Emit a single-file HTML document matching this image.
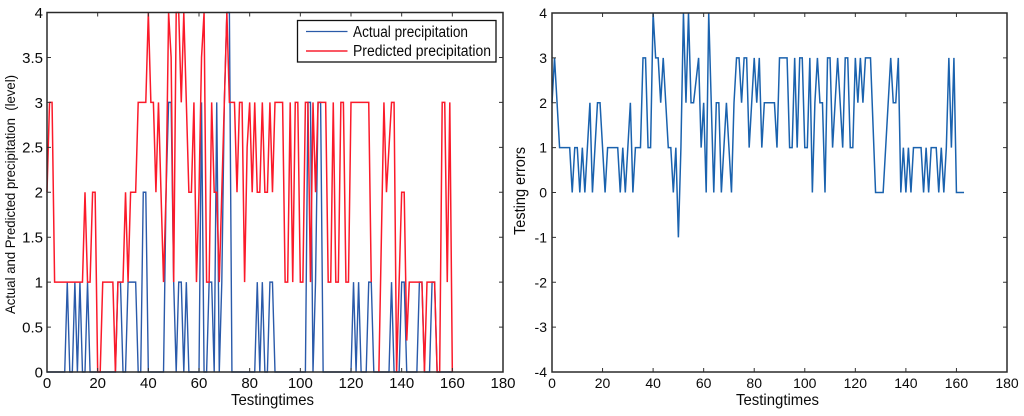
<!DOCTYPE html>
<html lang="en">
<head>
<meta charset="utf-8">
<title>Precipitation testing charts</title>
<style>
html,body{margin:0;padding:0;background:#fff;width:1024px;height:416px;overflow:hidden}
svg{display:block;filter:blur(0.35px)}
text{font-family:"Liberation Sans",sans-serif;fill:#0a0a0a}
</style>
</head>
<body>
<svg id="chart" xmlns="http://www.w3.org/2000/svg" width="1024" height="416" viewBox="0 0 1024 416">
  <rect x="0" y="0" width="1024" height="416" fill="#fff"/>
  <g id="left-plot"></g>
  <g id="right-plot"></g>
  <text transform="translate(15,314) rotate(-90)" font-size="14" textLength="239" lengthAdjust="spacingAndGlyphs" xml:space="preserve">Actual and Predicted precipitation  (level)</text>
  <text x="231" y="405" font-size="16" textLength="83" lengthAdjust="spacingAndGlyphs">Testingtimes</text>
  <text transform="translate(525,235) rotate(-90)" font-size="15.5" textLength="88" lengthAdjust="spacingAndGlyphs">Testing errors</text>
  <text x="736" y="405" font-size="16" textLength="83" lengthAdjust="spacingAndGlyphs">Testingtimes</text>
  <g>
    <rect x="297.5" y="20.5" width="198.5" height="41.5" fill="#fff" stroke="#111" stroke-width="1.3"/>
    <line x1="306" x2="347.5" y1="31.5" y2="31.5" stroke="#2a5aa8" stroke-width="1.3"/>
    <text x="353" y="37" font-size="15.5" textLength="115" lengthAdjust="spacingAndGlyphs">Actual precipitation</text>
    <line x1="306" x2="347.5" y1="51" y2="51" stroke="#f9404e" stroke-width="1.8"/>
    <text x="353" y="56" font-size="15.5" textLength="138" lengthAdjust="spacingAndGlyphs">Predicted precipitation</text>
  </g>
</svg>
<script>
const xTicks = [0, 20, 40, 60, 80, 100, 120, 140, 160, 180];
const leftYTicks = [0, 0.5, 1, 1.5, 2, 2.5, 3, 3.5, 4];
const rightYTicks = [-4, -3, -2, -1, 0, 1, 2, 3, 4];

const actualValues = [
0,0,0,0,0,0,0,0,1,0,
0,1,0,1,0,0,1,0,0,0,
0,0,0,0,0,0,0,0,1,1,
0,0,1,1,1,1,0,0,2,2,
0,0,0,0,0,0,0,2,3,3,
1,0,1,1,0,1,0,0,0,0,
0,3,0,0,1,1,0,3,0,1,
3,4,4,0,0,0,0,0,0,0,
0,0,0,1,0,1,0,0,1,1,
0,0,0,0,0,0,0,0,0,0,
0,0,0,3,3,0,1,3,3,0,
0,0,0,0,0,0,0,0,0,0,
0,1,0,1,0,0,0,1,1,0,
0,0,0,0,0,0,1,0,0,0,
1,1,0,0,0,0,0,1,1,0,
0,0,1,1,0,0,0,0,0,0,
0];

const predictedValues = [
2,3,3,1,1,1,1,1,1,1,
1,1,1,1,1,2,1,1,2,2,
0,0,1,1,1,1,1,0,1,1,
1,2,1,2,2,2,3,3,3,3,
4,3,3,2,3,2,1,2,4,3.5,
1,4,4,3,4,3,2,2,3,1,
2,3.5,4,1,1,3,2,2,1,2,
3,4,3,3,3,2,3,3,1,2.5,
3,2,3,2,2,3,2,2,3,2,
3,3,3,3,1,1,3,1,3,3,
1,1,3,3,1,3,2,3,3,3,
3,1,1,3,1,1,3,3,1,1,
3,3,3,3,3,3,3,3,1,null,
null,0,1.5,3,2,2.5,3,3,0,1,
2,2,0.35,1,1,1,1,1,1,0,
1,1,1,1,0,0,3,3,1,3,
0];

const errorValues = [
2,3,2,1,1,1,1,1,0,1,
1,0,1,0,1,2,0,1,2,2,
1,0,1,1,1,1,1,0,1,0,
1,2,0,1,1,1,3,3,1,1,
4,3,3,2,3,2,1,1,0,1,
-1,1,4,2,4,2,2,2.5,3,1,
2,0,4,2,0,2,2,0,1,2,
1,0,2,3,3,2,3,3,1,2,
3,2,3,1,2,2,2,2,2,1,
3,3,3,3,1,1,3,1,3,3,
1,1,3,0,2,3,2,2,0,3,
3,1,2,3,2,1,3,3,1,1,
3,2,3,2,3,3,3,1.5,0,0,
0,0,1,2,3,2,2,3,0,1,
0,1,0,1,1,1,1,0,1,0,
1,1,1,0,1,0,1,3,1,3,
0,0,0,0];

const SVGNS = 'http://www.w3.org/2000/svg';

function scale(d0, d1, r0, r1) {
  return function (v) { return r0 + (v - d0) * (r1 - r0) / (d1 - d0); };
}

function seriesPath(values, sx, sy) {
  let d = '';
  let pen = false;
  values.forEach(function (v, i) {
    if (v === null) { pen = false; return; }
    d += (pen ? 'L' : 'M') + sx(i).toFixed(2) + ' ' + sy(v).toFixed(2);
    pen = true;
  });
  return d;
}

function drawFrame(group, sx, sy, yTicks, box, fontSize, labelX) {
  xTicks.forEach(function (t) {
    const x = sx(t);
    if (t !== 0 && t !== 180) {
      const bottomTick = document.createElementNS(SVGNS, 'path');
      
      
      bottomTick.setAttribute('d', 'M' + x + ' ' + box.bottom + 'v-4M' + x + ' ' + box.top + 'v4');
      bottomTick.setAttribute('stroke', '#333');
      bottomTick.setAttribute('stroke-width', '1');
      group.appendChild(bottomTick);
    }
    const xLabel = document.createElementNS(SVGNS, 'text');
    
    
    xLabel.setAttribute('x', x);
    xLabel.setAttribute('y', 388);
    xLabel.setAttribute('font-size', fontSize);
    xLabel.setAttribute('text-anchor', 'middle');
    xLabel.textContent = t;
    group.appendChild(xLabel);
  });
  yTicks.forEach(function (t) {
    const y = sy(t);
    if (y > box.top + 1 && y < box.bottom - 1) {
      const sideTick = document.createElementNS(SVGNS, 'path');
      
      
      sideTick.setAttribute('d', 'M' + box.left + ' ' + y + 'h4M' + box.right + ' ' + y + 'h-4');
      sideTick.setAttribute('stroke', '#333');
      sideTick.setAttribute('stroke-width', '1');
      group.appendChild(sideTick);
    }
    const yLabel = document.createElementNS(SVGNS, 'text');
    
    
    yLabel.setAttribute('x', labelX);
    yLabel.setAttribute('y', y + fontSize * 0.36);
    yLabel.setAttribute('font-size', fontSize);
    yLabel.setAttribute('text-anchor', 'end');
    yLabel.textContent = t;
    group.appendChild(yLabel);
  });
  const frame = document.createElementNS(SVGNS, 'rect');
  
  
  frame.setAttribute('x', box.left);
  frame.setAttribute('y', box.top);
  frame.setAttribute('width', box.right - box.left);
  frame.setAttribute('height', box.bottom - box.top);
  frame.setAttribute('fill', 'none');
  frame.setAttribute('stroke', '#2a2a2a');
  frame.setAttribute('stroke-width', '1.5');
  group.appendChild(frame);
}

const leftBox = { left: 47, right: 503, top: 12.5, bottom: 372 };
const rightBox = { left: 552, right: 1007, top: 13, bottom: 372 };

const leftX = scale(0, 180, leftBox.left, leftBox.right);
const leftY = scale(0, 4, leftBox.bottom, leftBox.top);
const rightX = scale(0, 180, rightBox.left, rightBox.right);
const rightY = scale(-4, 4, rightBox.bottom, rightBox.top);

const leftGroup = document.getElementById('left-plot');
const rightGroup = document.getElementById('right-plot');

const actualLine = document.createElementNS(SVGNS, 'path');


actualLine.setAttribute('d', seriesPath(actualValues, leftX, leftY));
actualLine.setAttribute('fill', 'none');
actualLine.setAttribute('stroke', '#2a5aaa');
actualLine.setAttribute('stroke-width', '1.4');
leftGroup.appendChild(actualLine);

const predictedLine = document.createElementNS(SVGNS, 'path');


predictedLine.setAttribute('d', seriesPath(predictedValues, leftX, leftY));
predictedLine.setAttribute('fill', 'none');
predictedLine.setAttribute('stroke', '#fb1a2a');
predictedLine.setAttribute('stroke-width', '1.5');
leftGroup.appendChild(predictedLine);

drawFrame(leftGroup, leftX, leftY, leftYTicks, leftBox, 15, 43);

const errorLine = document.createElementNS(SVGNS, 'path');


errorLine.setAttribute('d', seriesPath(errorValues, rightX, rightY));
errorLine.setAttribute('fill', 'none');
errorLine.setAttribute('stroke', '#1a62ae');
errorLine.setAttribute('stroke-width', '1.5');
rightGroup.appendChild(errorLine);

drawFrame(rightGroup, rightX, rightY, rightYTicks, rightBox, 14, 547);
</script>
</body>
</html>
